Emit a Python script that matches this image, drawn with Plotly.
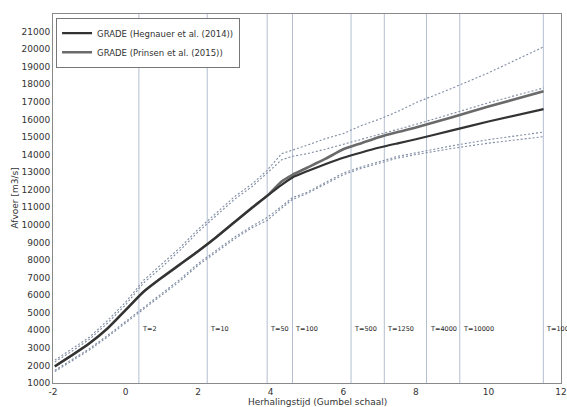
import math
import plotly.graph_objects as go

# ---- data ----
x_gumbel = [-1.95, -1.5, -1.0, -0.5, 0.0, 0.5, 1.0, 1.5, 2.0, 2.5, 3.0, 3.5, 3.9,
            4.3, 4.6, 5.0, 5.5, 6.0, 6.5, 7.0, 7.5, 8.0, 9.0, 10.0, 11.52]

hegnauer_mid = [1950, 2550, 3250, 4100, 5150, 6200, 7000, 7750, 8500, 9300, 10150, 11000, 11650,
                12280, 12700, 13050, 13450, 13820, 14120, 14400, 14640, 14870, 15380, 15880, 16590]
hegnauer_up = [2200, 2780, 3480, 4400, 5450, 6700, 7600, 8550, 9600, 10550, 11450, 12200, 12950,
               13700, 13900, 14050, 14300, 14580, 14850, 15120, 15400, 15720, 16330, 16950, 17790]
hegnauer_lo = [1650, 2220, 2870, 3620, 4420, 5220, 6050, 6800, 7700, 8450, 9200, 9850, 10250,
               10950, 11450, 11780, 12300, 12850, 13220, 13520, 13800, 14000, 14350, 14650, 15020]

prinsen_mid = [1950, 2550, 3250, 4100, 5150, 6200, 7000, 7750, 8500, 9300, 10150, 11000, 11650,
               12470, 12850, 13250, 13750, 14300, 14650, 15000, 15280, 15540, 16130, 16730, 17600]
prinsen_up = [2300, 2900, 3600, 4550, 5600, 6850, 7750, 8700, 9750, 10700, 11600, 12350, 13100,
              14050, 14250, 14530, 14900, 15200, 15650, 16020, 16450, 16950, 17780, 18650, 20130]
prinsen_lo = [1720, 2300, 2950, 3700, 4500, 5300, 6150, 6900, 7800, 8550, 9300, 9950, 10420,
              11050, 11550, 11850, 12400, 12950, 13300, 13600, 13900, 14100, 14500, 14850, 15280]

return_periods = [2, 10, 50, 100, 500, 1250, 4000, 10000, 100000]
y_ticks = list(range(1000, 22000, 1000))
x_ticks = [-2, 0, 2, 4, 6, 8, 10, 12]

names = ["GRADE (Hegnauer et al. (2014))", "GRADE (Prinsen et al. (2015))"]


def gumbel(T):
    return -math.log(-math.log(1.0 - 1.0 / T))


FONT = "DejaVu Sans"
fig = go.Figure()

band_col = "#7f8ca3"
for ys in (prinsen_up, prinsen_lo, hegnauer_up, hegnauer_lo):
    fig.add_trace(go.Scatter(x=x_gumbel, y=ys, mode="lines", showlegend=False,
                             line=dict(color=band_col, width=1.1, dash="2px,2px"),
                             hoverinfo="skip"))

fig.add_trace(go.Scatter(x=x_gumbel, y=prinsen_mid, mode="lines", name=names[1],
                         line=dict(color="#6a6a6a", width=2.6, shape="spline", smoothing=0.6)))
fig.add_trace(go.Scatter(x=x_gumbel, y=hegnauer_mid, mode="lines", name=names[0],
                         line=dict(color="#333333", width=2.2, shape="spline", smoothing=0.6)))

shapes = []
annotations = []
for T in return_periods:
    xv = gumbel(T)
    shapes.append(dict(type="line", xref="x", yref="paper", x0=xv, x1=xv, y0=0, y1=1,
                       line=dict(color="#b3bfd0", width=1), layer="below"))
    annotations.append(dict(x=xv, y=4100, xref="x", yref="y", text=f"T={T}",
                            showarrow=False, xanchor="left", yanchor="middle", xshift=1,
                            font=dict(family=FONT, size=6.5, color="#222")))

annotations.append(dict(x=0.52, y=0, xref="paper", yref="paper",
                        text="Herhalingstijd (Gumbel schaal)", showarrow=False,
                        xanchor="center", yanchor="middle", yshift=-19,
                        font=dict(family=FONT, size=9, color="#333")))
annotations.append(dict(x=0, y=0.5, xref="paper", yref="paper",
                        text="Afvoer [m3/s]", showarrow=False, textangle=-90,
                        xanchor="center", yanchor="middle", xshift=-39,
                        font=dict(family=FONT, size=9, color="#333")))

fig.update_layout(
    width=567, height=407,
    margin=dict(l=53, r=6, t=14, b=24, autoexpand=False),
    paper_bgcolor="white", plot_bgcolor="white",
    font=dict(family=FONT, size=9, color="#333"),
    shapes=shapes, annotations=annotations,
    legend=dict(x=0.006, y=0.99, xanchor="left", yanchor="top",
                bgcolor="white", bordercolor="#777", borderwidth=1,
                font=dict(family=FONT, size=8.5, color="#333"),
                traceorder="reversed", itemwidth=30,
                tracegroupgap=0),
    showlegend=True,
)
fig.update_xaxes(range=[-2, 12], tickvals=x_ticks, ticktext=[str(v) for v in x_ticks],
                 showgrid=False, zeroline=False, showline=True, mirror=True,
                 linecolor="#8a8a8a", linewidth=1, ticks="", automargin=False,
                 tickfont=dict(family=FONT, size=9, color="#333"))
fig.update_yaxes(range=[1000, 22000], tickvals=y_ticks, ticktext=[str(v) for v in y_ticks],
                 showgrid=False, zeroline=False, showline=True, mirror=True,
                 linecolor="#8a8a8a", linewidth=1, ticks="", automargin=False,
                 tickfont=dict(family=FONT, size=9, color="#333"))

fig.write_html("out.html", config={"displayModeBar": False},
               post_script="document.body.style.margin='0';document.body.style.overflow='hidden';")
